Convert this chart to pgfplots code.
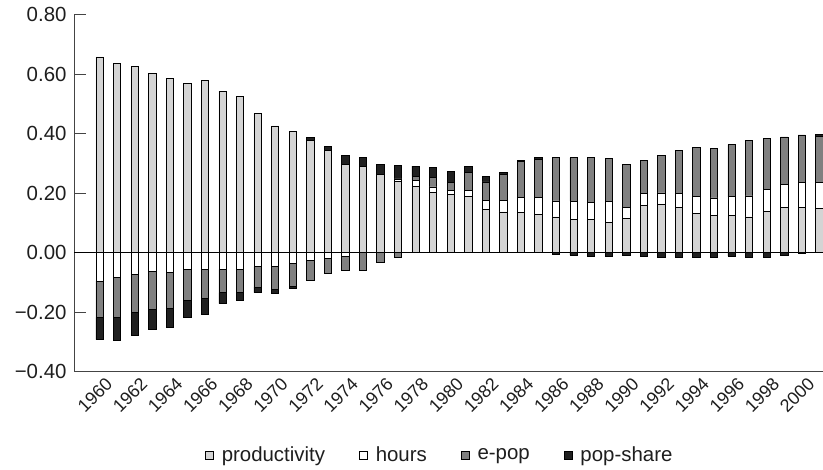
\documentclass[border=0pt]{standalone}
\usepackage{pgfplots}
\pgfplotsset{compat=1.18}
\usepackage{pgfplotstable}
\usepackage{fontspec}
\setmainfont{Liberation Sans}
\definecolor{prodc}{HTML}{D4D4D4}
\definecolor{epopc}{HTML}{808080}
\definecolor{popc}{HTML}{202020}
\definecolor{axisgray}{HTML}{444444}
\definecolor{txt}{HTML}{1E1E1E}

\pgfplotstableread{
year prod hoursP epopP popP hoursN epopN popN
1960 0.658 0 0 0 -0.095 -0.122 -0.075
1961 0.636 0 0 0 -0.084 -0.133 -0.079
1962 0.625 0 0 0 -0.072 -0.128 -0.078
1963 0.602 0 0 0 -0.064 -0.126 -0.069
1964 0.585 0 0 0 -0.065 -0.122 -0.064
1965 0.570 0 0 0 -0.056 -0.105 -0.056
1966 0.579 0 0 0 -0.056 -0.099 -0.052
1967 0.543 0 0 0 -0.056 -0.078 -0.037
1968 0.526 0 0 0 -0.056 -0.078 -0.026
1969 0.467 0 0 0 -0.047 -0.069 -0.018
1970 0.426 0 0 0 -0.047 -0.077 -0.013
1971 0.408 0 0 0 -0.037 -0.077 -0.007
1972 0.377 0 0 0.010 -0.027 -0.066 0
1973 0.343 0 0 0.013 -0.020 -0.049 0
1974 0.297 0 0 0.029 -0.012 -0.048 0
1975 0.289 0 0 0.030 0 -0.060 0
1976 0.263 0 0 0.035 0 -0.033 0
1977 0.241 0.007 0 0.045 0 -0.017 0
1978 0.224 0.020 0.013 0.034 0 0 0
1979 0.202 0.019 0.032 0.034 0 0 0
1980 0.196 0.014 0.027 0.036 0 0 0
1981 0.188 0.022 0.060 0.021 0 0 0
1982 0.145 0.032 0.061 0.018 0 0 0
1983 0.137 0.040 0.086 0.008 0 0 0
1984 0.135 0.051 0.122 0.003 0 0 0
1985 0.129 0.057 0.128 0.005 0 0 0
1986 0.120 0.054 0.145 0 0 0 -0.004
1987 0.111 0.062 0.146 0 0 0 -0.008
1988 0.111 0.057 0.151 0 0 0 -0.012
1989 0.103 0.068 0.145 0 0 0 -0.011
1990 0.114 0.037 0.146 0 0 0 -0.008
1991 0.160 0.039 0.112 0 0 0 -0.012
1992 0.162 0.039 0.125 0 0 0 -0.017
1993 0.151 0.048 0.146 0 0 0 -0.015
1994 0.132 0.056 0.166 0 0 0 -0.015
1995 0.124 0.060 0.167 0 0 0 -0.016
1996 0.124 0.064 0.175 0 0 0 -0.011
1997 0.120 0.071 0.186 0 0 0 -0.016
1998 0.139 0.075 0.169 0 0 0 -0.015
1999 0.152 0.078 0.159 0 0 0 -0.009
2000 0.152 0.084 0.160 0 0 0 -0.003
2001 0.148 0.088 0.154 0.008 0 0 0
}\datatable

\pgfplotsset{
  base/.style={
    scale only axis, width=749bp, height=357bp,
    xmin=1958.54, xmax=2001.21, ymin=-0.4, ymax=0.8,
    ybar stacked, bar width=7.3bp,
    at={(74bp,98.3bp)}, anchor=south west,
    clip=false,
  },
  barst/.style={draw=black, line width=0.7bp},
}

\begin{document}
\begin{tikzpicture}
\useasboundingbox (0,0) rectangle (823bp,470bp);
\begin{axis}[base,
  axis x line*=bottom, axis y line*=left,
  axis line style={draw=axisgray, line width=0.9bp},
  ytick={-0.4,-0.2,0,0.2,0.4,0.6,0.8},
  yticklabels={−0.40,−0.20,0.00,0.20,0.40,0.60,0.80},
  xtick={1960,1962,...,2000},
  xticklabels={1960,1962,1964,1966,1968,1970,1972,1974,1976,1978,1980,1982,1984,1986,1988,1990,1992,1994,1996,1998,2000},
  tick align=inside, major tick length=12bp,
  ytick style={draw=axisgray, line width=0.9bp},
  xtick style={draw=none},
  yticklabel style={font=\fontsize{20.5}{24}\selectfont, text=txt, xshift=-4bp},
  xticklabel style={font=\fontsize{18}{21}\selectfont, text=txt, rotate=45, anchor=north east, inner sep=3bp, xshift=3bp, yshift=-4bp},
  legend columns=4,
  legend style={draw=none, fill=none, at={(axis description cs:0.487,-0.233)}, anchor=center,
    font=\fontsize{20.5}{24}\selectfont, text=txt, nodes={inner sep=0bp},
    /tikz/every even column/.append style={column sep=34bp}},
  legend image code/.code={\draw[#1,line width=0.7bp] (0bp,-4bp) rectangle (8bp,4bp); \path (16bp,0bp);},
]
\addplot[barst, fill=prodc] table[x=year, y=prod] {\datatable};
\addplot[barst, fill=white] table[x=year, y=hoursP] {\datatable};
\addplot[barst, fill=epopc] table[x=year, y=epopP] {\datatable};
\addplot[barst, fill=popc] table[x=year, y=popP] {\datatable};
\legend{productivity, hours, e-pop, pop-share}
\end{axis}
\begin{axis}[base, axis lines=none, xtick=\empty, ytick=\empty]
\addplot[barst, fill=white] table[x=year, y=hoursN] {\datatable};
\addplot[barst, fill=epopc] table[x=year, y=epopN] {\datatable};
\addplot[barst, fill=popc] table[x=year, y=popN] {\datatable};
\draw[black, line width=0.8bp] (axis cs:1958.54,0) -- (axis cs:2001.21,0);
\end{axis}
\end{tikzpicture}
\end{document}
